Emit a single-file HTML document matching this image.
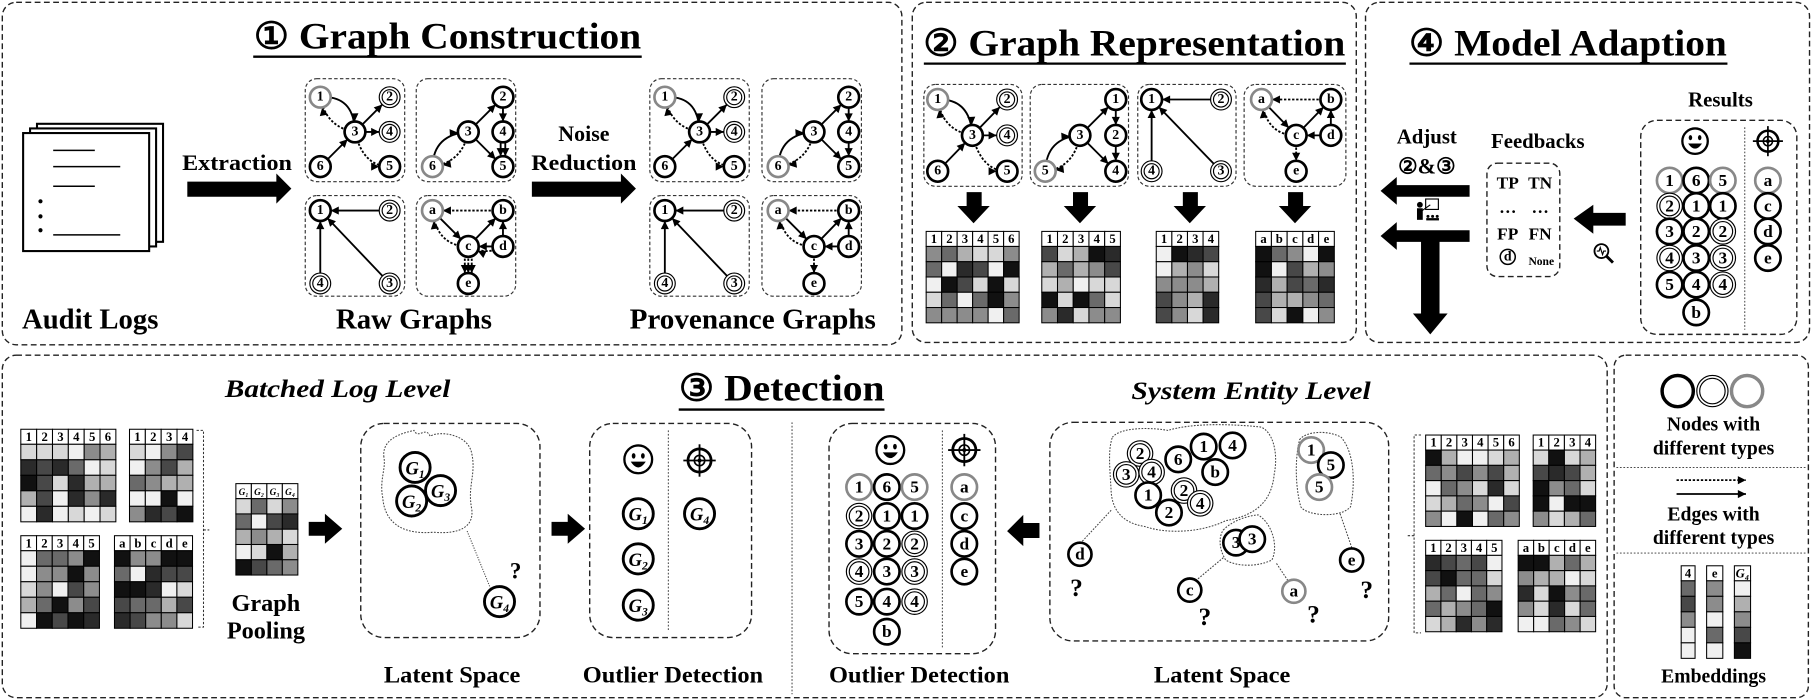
<!DOCTYPE html>
<html><head><meta charset="utf-8"><style>
html,body{margin:0;padding:0;background:#fff;}
svg{display:block;}
.bx{fill:none;stroke:#222;stroke-width:1.2;stroke-dasharray:5 3}
.sb{fill:none;stroke:#333;stroke-width:1;stroke-dasharray:3 2}
.e{stroke:#000;stroke-width:1.6;fill:none;marker-end:url(#ah)}
.dt{stroke-dasharray:2 1.5}
.nk{fill:#fff;stroke:#000;stroke-width:2.3}
.nd{fill:#fff;stroke:#000;stroke-width:1}
.ng{fill:#fff;stroke:#888;stroke-width:2.3}
.t{font-family:"Liberation Serif",serif;font-weight:bold;text-anchor:middle;fill:#000}
.nt{font-family:"Liberation Serif",serif;font-weight:bold;font-size:12px;text-anchor:middle;dominant-baseline:central}
.big{font-size:15px}
.ht{font-family:"Liberation Serif",serif;font-weight:bold;font-size:11px;text-anchor:middle}
.cl{fill:none;stroke:#444;stroke-width:0.9;stroke-dasharray:1.5 1.2}
</style></head><body>
<svg width="1813" height="700" viewBox="0 0 1568 605" preserveAspectRatio="none" xmlns="http://www.w3.org/2000/svg">
<defs>
<marker id="ah" markerUnits="userSpaceOnUse" markerWidth="30" markerHeight="30" refX="16" refY="0" viewBox="-2 -6 30 12" orient="auto" overflow="visible"><path d="M0,-3.5 L7,0 L0,3.5 z" fill="#000"/></marker>
<marker id="ah2" markerUnits="userSpaceOnUse" refX="7" refY="0" orient="auto" overflow="visible"><path d="M0,-3.5 L7,0 L0,3.5 z" fill="#000"/></marker>
</defs>
<g id="mx"></g>

<!-- Panels -->
<rect class="bx" x="2" y="2" width="778" height="296" rx="12"/>
<rect class="bx" x="789" y="2" width="384" height="294" rx="12"/>
<rect class="bx" x="1181" y="2" width="384" height="294" rx="12"/>
<rect class="bx" x="2" y="307" width="1388" height="296" rx="12"/>
<rect class="bx" x="1396" y="307" width="168" height="296" rx="10"/>

<!-- Titles -->
<text class="t" x="387" y="42" font-size="32" textLength="335" lengthAdjust="spacingAndGlyphs">① Graph Construction</text>
<line x1="219" y1="49" x2="555" y2="49" stroke="#000" stroke-width="2"/>
<text class="t" x="981" y="48" font-size="32" textLength="365" lengthAdjust="spacingAndGlyphs">② Graph Representation</text>
<line x1="799" y1="55" x2="1164" y2="55" stroke="#000" stroke-width="2"/>
<text class="t" x="1356" y="48" font-size="32" textLength="275" lengthAdjust="spacingAndGlyphs">④ Model Adaption</text>
<line x1="1219" y1="55" x2="1494" y2="55" stroke="#000" stroke-width="2"/>
<text class="t" x="676" y="346" font-size="32" textLength="178" lengthAdjust="spacingAndGlyphs">③ Detection</text>
<line x1="587" y1="354" x2="765" y2="354" stroke="#000" stroke-width="2"/>

<!-- Audit logs -->
<g fill="#fff" stroke="#000" stroke-width="1.8">
<rect x="32" y="107" width="109" height="102"/>
<rect x="26" y="111" width="109" height="102"/>
<rect x="20" y="115" width="109" height="102"/>
</g>
<g stroke="#000" stroke-width="1.3">
<line x1="46" y1="130" x2="82" y2="130"/><line x1="46" y1="144" x2="104" y2="144"/>
<line x1="46" y1="161" x2="82" y2="161"/><line x1="46" y1="203" x2="104" y2="203"/>
</g>
<circle cx="35" cy="174" r="1.8"/><circle cx="35" cy="187" r="1.8"/><circle cx="35" cy="199" r="1.8"/>
<text class="t" x="78" y="284" font-size="25" textLength="118" lengthAdjust="spacingAndGlyphs">Audit Logs</text>
<text class="t" x="205" y="147" font-size="19" textLength="95" lengthAdjust="spacingAndGlyphs">Extraction</text>
<polygon points="162,157 239,157 239,150 252,163 239,176 239,170 162,170" fill="#000"/>
<text class="t" x="505" y="122" font-size="19">Noise</text>
<text class="t" x="505" y="147" font-size="19" textLength="91" lengthAdjust="spacingAndGlyphs">Reduction</text>
<polygon points="460,157 537,157 537,150 550,163 537,176 537,170 460,170" fill="#000"/>
<text class="t" x="358" y="284" font-size="25" textLength="135" lengthAdjust="spacingAndGlyphs">Raw Graphs</text>
<text class="t" x="651" y="284" font-size="25" textLength="213" lengthAdjust="spacingAndGlyphs">Provenance Graphs</text>

<!-- Raw graph 1 -->
<g transform="translate(264,68)">
<rect class="sb" x="0" y="0" width="86" height="89" rx="10"/>
<path class="e" d="M13,16 Q42,14 43,46"/><path class="e dt" d="M43,46 Q18,42 13,16"/>
<line class="e" x1="43" y1="46" x2="73" y2="16"/><line class="e" x1="43" y1="46" x2="73" y2="46" stroke-width="2.6"/>
<line class="e" x1="13" y1="76" x2="43" y2="46"/><path class="e dt" d="M43,46 Q50,76 73,76"/>
<circle class="ng" cx="13" cy="16" r="9"/><text class="nt" x="13" y="16">1</text>
<circle class="nd" cx="73" cy="16" r="9"/><circle class="nd" cx="73" cy="16" r="6.5"/><text class="nt" x="73" y="16">2</text>
<circle class="nk" cx="43" cy="46" r="9"/><text class="nt" x="43" y="46">3</text>
<circle class="nd" cx="73" cy="46" r="9"/><circle class="nd" cx="73" cy="46" r="6.5"/><text class="nt" x="73" y="46">4</text>
<circle class="nk" cx="13" cy="76" r="9"/><text class="nt" x="13" y="76">6</text>
<circle class="nk" cx="73" cy="76" r="9"/><text class="nt" x="73" y="76">5</text>
</g>
<!-- Raw graph 2 -->
<g transform="translate(360,68)">
<rect class="sb" x="0" y="0" width="86" height="89" rx="10"/>
<line class="e" x1="45" y1="46" x2="75" y2="16"/><line class="e" x1="75" y1="16" x2="75" y2="46"/>
<line class="e" x1="73" y1="46" x2="73" y2="76"/><line class="e" x1="77" y1="46" x2="77" y2="76"/><line class="e" x1="45" y1="46" x2="75" y2="76"/>
<path class="e" d="M14,76 Q15,48 45,46"/><path class="e dt" d="M45,46 Q40,72 14,76"/>
<circle class="nk" cx="75" cy="16" r="9"/><text class="nt" x="75" y="16">2</text>
<circle class="nk" cx="45" cy="46" r="9"/><text class="nt" x="45" y="46">3</text>
<circle class="nk" cx="75" cy="46" r="9"/><text class="nt" x="75" y="46">4</text>
<circle class="ng" cx="14" cy="76" r="9"/><text class="nt" x="14" y="76">6</text>
<circle class="nk" cx="75" cy="76" r="9"/><text class="nt" x="75" y="76">5</text>
</g>
<!-- Raw graph 3 -->
<g transform="translate(264,169)">
<rect class="sb" x="0" y="0" width="86" height="87" rx="10"/>
<line class="e" x1="73" y1="13" x2="13" y2="13" stroke-width="2.4"/><line class="e" x1="13" y1="76" x2="13" y2="13"/><line class="e" x1="73" y1="76" x2="13" y2="13"/>
<circle class="nk" cx="13" cy="13" r="9"/><text class="nt" x="13" y="13">1</text>
<circle class="nd" cx="73" cy="13" r="9"/><circle class="nd" cx="73" cy="13" r="6.5"/><text class="nt" x="73" y="13">2</text>
<circle class="nd" cx="13" cy="76" r="9"/><circle class="nd" cx="13" cy="76" r="6.5"/><text class="nt" x="13" y="76">4</text>
<circle class="nd" cx="73" cy="76" r="9"/><circle class="nd" cx="73" cy="76" r="6.5"/><text class="nt" x="73" y="76">3</text>
</g>
<!-- Raw graph 4 -->
<g transform="translate(360,169)">
<rect class="sb" x="0" y="0" width="86" height="87" rx="10"/>
<line class="e dt" x1="75" y1="13" x2="14" y2="13"/><line class="e" x1="14" y1="13" x2="45" y2="44"/>
<path class="e dt" d="M45,44 Q18,44 14,13"/><line class="e" x1="45" y1="44" x2="75" y2="13"/>
<line class="e" x1="75" y1="44" x2="75" y2="13"/><line class="e" x1="75" y1="44" x2="45" y2="44" stroke-width="2.4"/>
<path class="e dt" d="M75,44 Q62,52 45,44"/>
<line class="e dt" x1="42" y1="44" x2="42" y2="76"/><line class="e dt" x1="45" y1="44" x2="45" y2="76"/><line class="e dt" x1="48" y1="44" x2="48" y2="76"/>
<circle class="ng" cx="14" cy="13" r="9"/><text class="nt" x="14" y="13">a</text>
<circle class="nk" cx="75" cy="13" r="9"/><text class="nt" x="75" y="13">b</text>
<circle class="nk" cx="45" cy="44" r="9"/><text class="nt" x="45" y="44">c</text>
<circle class="nk" cx="75" cy="44" r="9"/><text class="nt" x="75" y="44">d</text>
<circle class="nk" cx="45" cy="76" r="9"/><text class="nt" x="45" y="76">e</text>
</g>
<!-- Prov graph 1 -->
<g transform="translate(562,68)">
<rect class="sb" x="0" y="0" width="86" height="89" rx="10"/>
<path class="e" d="M13,16 Q42,14 43,46"/><path class="e dt" d="M43,46 Q18,42 13,16"/>
<line class="e" x1="43" y1="46" x2="73" y2="16"/><line class="e" x1="43" y1="46" x2="73" y2="46" stroke-width="2.6"/>
<line class="e" x1="13" y1="76" x2="43" y2="46"/><path class="e dt" d="M43,46 Q50,76 73,76"/>
<circle class="ng" cx="13" cy="16" r="9"/><text class="nt" x="13" y="16">1</text>
<circle class="nd" cx="73" cy="16" r="9"/><circle class="nd" cx="73" cy="16" r="6.5"/><text class="nt" x="73" y="16">2</text>
<circle class="nk" cx="43" cy="46" r="9"/><text class="nt" x="43" y="46">3</text>
<circle class="nd" cx="73" cy="46" r="9"/><circle class="nd" cx="73" cy="46" r="6.5"/><text class="nt" x="73" y="46">4</text>
<circle class="nk" cx="13" cy="76" r="9"/><text class="nt" x="13" y="76">6</text>
<circle class="nk" cx="73" cy="76" r="9"/><text class="nt" x="73" y="76">5</text>
</g>
<!-- Prov graph 2 -->
<g transform="translate(659,68)">
<rect class="sb" x="0" y="0" width="86" height="89" rx="10"/>
<line class="e" x1="45" y1="46" x2="75" y2="16"/><line class="e" x1="75" y1="16" x2="75" y2="46"/>
<line class="e" x1="75" y1="46" x2="75" y2="76"/><line class="e" x1="45" y1="46" x2="75" y2="76"/>
<path class="e" d="M14,76 Q15,48 45,46"/><path class="e dt" d="M45,46 Q40,72 14,76"/>
<circle class="nk" cx="75" cy="16" r="9"/><text class="nt" x="75" y="16">2</text>
<circle class="nk" cx="45" cy="46" r="9"/><text class="nt" x="45" y="46">3</text>
<circle class="nk" cx="75" cy="46" r="9"/><text class="nt" x="75" y="46">4</text>
<circle class="ng" cx="14" cy="76" r="9"/><text class="nt" x="14" y="76">6</text>
<circle class="nk" cx="75" cy="76" r="9"/><text class="nt" x="75" y="76">5</text>
</g>
<!-- Prov graph 3 -->
<g transform="translate(562,169)">
<rect class="sb" x="0" y="0" width="86" height="87" rx="10"/>
<line class="e" x1="73" y1="13" x2="13" y2="13" stroke-width="2.4"/><line class="e" x1="13" y1="76" x2="13" y2="13"/><line class="e" x1="73" y1="76" x2="13" y2="13"/>
<circle class="nk" cx="13" cy="13" r="9"/><text class="nt" x="13" y="13">1</text>
<circle class="nd" cx="73" cy="13" r="9"/><circle class="nd" cx="73" cy="13" r="6.5"/><text class="nt" x="73" y="13">2</text>
<circle class="nd" cx="13" cy="76" r="9"/><circle class="nd" cx="13" cy="76" r="6.5"/><text class="nt" x="13" y="76">4</text>
<circle class="nd" cx="73" cy="76" r="9"/><circle class="nd" cx="73" cy="76" r="6.5"/><text class="nt" x="73" y="76">3</text>
</g>
<!-- Prov graph 4 -->
<g transform="translate(659,169)">
<rect class="sb" x="0" y="0" width="86" height="87" rx="10"/>
<line class="e dt" x1="75" y1="13" x2="14" y2="13"/><line class="e" x1="14" y1="13" x2="45" y2="44"/>
<path class="e dt" d="M45,44 Q18,44 14,13"/><line class="e" x1="45" y1="44" x2="75" y2="13"/>
<line class="e" x1="75" y1="44" x2="75" y2="13"/><line class="e" x1="75" y1="44" x2="45" y2="44" stroke-width="2.4"/>
<line class="e dt" x1="45" y1="44" x2="45" y2="76"/>
<circle class="ng" cx="14" cy="13" r="9"/><text class="nt" x="14" y="13">a</text>
<circle class="nk" cx="75" cy="13" r="9"/><text class="nt" x="75" y="13">b</text>
<circle class="nk" cx="45" cy="44" r="9"/><text class="nt" x="45" y="44">c</text>
<circle class="nk" cx="75" cy="44" r="9"/><text class="nt" x="75" y="44">d</text>
<circle class="nk" cx="45" cy="76" r="9"/><text class="nt" x="45" y="76">e</text>
</g>

<!-- Panel 2 graphs -->
<g transform="translate(799,73)">
<rect class="sb" x="0" y="0" width="85" height="88" rx="10"/>
<path class="e" d="M12,13 Q40,12 42,44"/><path class="e dt" d="M42,44 Q16,40 12,13"/>
<line class="e" x1="42" y1="44" x2="72" y2="13"/><line class="e" x1="42" y1="44" x2="72" y2="44" stroke-width="2.6"/>
<line class="e" x1="12" y1="75" x2="42" y2="44"/><path class="e dt" d="M42,44 Q50,75 72,75"/>
<circle class="ng" cx="12" cy="13" r="9"/><text class="nt" x="12" y="13">1</text>
<circle class="nd" cx="72" cy="13" r="9"/><circle class="nd" cx="72" cy="13" r="6.5"/><text class="nt" x="72" y="13">2</text>
<circle class="nk" cx="42" cy="44" r="9"/><text class="nt" x="42" y="44">3</text>
<circle class="nd" cx="72" cy="44" r="9"/><circle class="nd" cx="72" cy="44" r="6.5"/><text class="nt" x="72" y="44">4</text>
<circle class="nk" cx="12" cy="75" r="9"/><text class="nt" x="12" y="75">6</text>
<circle class="nk" cx="72" cy="75" r="9"/><text class="nt" x="72" y="75">5</text>
</g>
<g transform="translate(891,73)">
<rect class="sb" x="0" y="0" width="85" height="88" rx="10"/>
<line class="e" x1="43" y1="44" x2="74" y2="13"/><line class="e" x1="74" y1="13" x2="74" y2="44"/>
<line class="e" x1="74" y1="44" x2="74" y2="75"/><line class="e" x1="43" y1="44" x2="74" y2="75"/>
<path class="e" d="M13,75 Q14,46 43,44"/><path class="e dt" d="M43,44 Q38,72 13,75"/>
<circle class="nk" cx="74" cy="13" r="9"/><text class="nt" x="74" y="13">1</text>
<circle class="nk" cx="43" cy="44" r="9"/><text class="nt" x="43" y="44">3</text>
<circle class="nk" cx="74" cy="44" r="9"/><text class="nt" x="74" y="44">2</text>
<circle class="ng" cx="13" cy="75" r="9"/><text class="nt" x="13" y="75">5</text>
<circle class="nk" cx="74" cy="75" r="9"/><text class="nt" x="74" y="75">4</text>
</g>
<g transform="translate(984,73)">
<rect class="sb" x="0" y="0" width="85" height="88" rx="10"/>
<line class="e" x1="72" y1="13" x2="12" y2="13" stroke-width="2.4"/><line class="e" x1="12" y1="75" x2="12" y2="13"/><line class="e" x1="72" y1="75" x2="12" y2="13"/>
<circle class="nk" cx="12" cy="13" r="9"/><text class="nt" x="12" y="13">1</text>
<circle class="nd" cx="72" cy="13" r="9"/><circle class="nd" cx="72" cy="13" r="6.5"/><text class="nt" x="72" y="13">2</text>
<circle class="nd" cx="12" cy="75" r="9"/><circle class="nd" cx="12" cy="75" r="6.5"/><text class="nt" x="12" y="75">4</text>
<circle class="nd" cx="72" cy="75" r="9"/><circle class="nd" cx="72" cy="75" r="6.5"/><text class="nt" x="72" y="75">3</text>
</g>
<g transform="translate(1076,73)">
<rect class="sb" x="0" y="0" width="88" height="88" rx="10"/>
<line class="e dt" x1="75" y1="13" x2="15" y2="13"/><line class="e" x1="15" y1="13" x2="45" y2="44"/>
<path class="e dt" d="M45,44 Q19,44 15,13"/><line class="e" x1="45" y1="44" x2="75" y2="13"/>
<line class="e" x1="75" y1="44" x2="75" y2="13"/><line class="e" x1="75" y1="44" x2="45" y2="44" stroke-width="2.4"/>
<line class="e dt" x1="45" y1="44" x2="45" y2="75"/>
<circle class="ng" cx="15" cy="13" r="9"/><text class="nt" x="15" y="13">a</text>
<circle class="nk" cx="75" cy="13" r="9"/><text class="nt" x="75" y="13">b</text>
<circle class="nk" cx="45" cy="44" r="9"/><text class="nt" x="45" y="44">c</text>
<circle class="nk" cx="75" cy="44" r="9"/><text class="nt" x="75" y="44">d</text>
<circle class="nk" cx="45" cy="75" r="9"/><text class="nt" x="45" y="75">e</text>
</g>
<!-- down arrows -->
<g fill="#000">
<polygon points="836,166 849,166 849,178 856,178 842,193 828,178 836,178"/>
<polygon points="928,166 941,166 941,178 948,178 934,193 920,178 928,178"/>
<polygon points="1023,166 1036,166 1036,178 1043,178 1029,193 1015,178 1023,178"/>
<polygon points="1114,166 1127,166 1127,178 1134,178 1120,193 1106,178 1114,178"/>
</g>

<!-- matrix headers -->
<g class="ht">
<text x="807.7" y="210">1</text><text x="821.1" y="210">2</text><text x="834.5" y="210">3</text><text x="847.9" y="210">4</text><text x="861.3" y="210">5</text><text x="874.7" y="210">6</text>
<text x="907.8" y="210">1</text><text x="921.4" y="210">2</text><text x="935" y="210">3</text><text x="948.6" y="210">4</text><text x="962.2" y="210">5</text>
<text x="1006.8" y="210">1</text><text x="1020.3" y="210">2</text><text x="1033.8" y="210">3</text><text x="1047.3" y="210">4</text>
<text x="1092.8" y="210">a</text><text x="1106.4" y="210">b</text><text x="1120" y="210">c</text><text x="1133.6" y="210">d</text><text x="1147.2" y="210">e</text>
<text x="24.9" y="381">1</text><text x="38.6" y="381">2</text><text x="52.3" y="381">3</text><text x="66" y="381">4</text><text x="79.7" y="381">5</text><text x="93.4" y="381">6</text>
<text x="118.9" y="381">1</text><text x="132.6" y="381">2</text><text x="146.3" y="381">3</text><text x="160" y="381">4</text>
<text x="24.8" y="473">1</text><text x="38.4" y="473">2</text><text x="52" y="473">3</text><text x="65.6" y="473">4</text><text x="79.2" y="473">5</text>
<text x="105.8" y="473">a</text><text x="119.3" y="473">b</text><text x="132.8" y="473">c</text><text x="146.3" y="473">d</text><text x="159.8" y="473">e</text>
<text x="1239.8" y="386">1</text><text x="1253.3" y="386">2</text><text x="1266.8" y="386">3</text><text x="1280.3" y="386">4</text><text x="1293.8" y="386">5</text><text x="1307.3" y="386">6</text>
<text x="1332.8" y="386">1</text><text x="1346.3" y="386">2</text><text x="1359.8" y="386">3</text><text x="1373.3" y="386">4</text>
<text x="1239.6" y="477">1</text><text x="1252.8" y="477">2</text><text x="1266" y="477">3</text><text x="1279.2" y="477">4</text><text x="1292.4" y="477">5</text>
<text x="1319.7" y="477">a</text><text x="1333.1" y="477">b</text><text x="1346.5" y="477">c</text><text x="1359.9" y="477">d</text><text x="1373.3" y="477">e</text>
</g>
<g class="ht" font-style="italic" font-size="8">
<text x="210.7" y="428" font-size="8">G₁</text><text x="224.1" y="428" font-size="8">G₂</text><text x="237.5" y="428" font-size="8">G₃</text><text x="250.9" y="428" font-size="8">G₄</text>
</g>

<!-- Panel 4 -->
<text class="t" x="1488" y="92" font-size="18">Results</text>
<rect class="bx" x="1419" y="104" width="135" height="185" rx="14"/>
<line x1="1509" y1="110" x2="1509" y2="285" stroke="#333" stroke-width="0.8" stroke-dasharray="1.5 1.5"/>
<g transform="translate(1466,122)"><circle r="11" fill="#fff" stroke="#000" stroke-width="2"/><ellipse cx="-4" cy="-3" rx="1.5" ry="2.2"/><ellipse cx="4" cy="-3" rx="1.5" ry="2.2"/><path d="M-6,2 Q0,11 6,2 z"/></g>
<g transform="translate(1529,122)" fill="none" stroke="#000"><circle r="9" stroke-width="2.2"/><circle r="4" stroke-width="1.3"/><circle r="1.2" stroke-width="1"/><line x1="-13" y1="0" x2="13" y2="0" stroke-width="1.5"/><line x1="0" y1="-13" x2="0" y2="13" stroke-width="1.5"/></g>
<g>
<circle class="ng" cx="1444" cy="156" r="11"/><text class="nt big" x="1444" y="156">1</text>
<circle class="nd" cx="1444" cy="178" r="11"/><circle class="nd" cx="1444" cy="178" r="8.5"/><text class="nt big" x="1444" y="178">2</text>
<circle class="nk" cx="1444" cy="200" r="11" stroke-width="3"/><text class="nt big" x="1444" y="200">3</text>
<circle class="nd" cx="1444" cy="223" r="11"/><circle class="nd" cx="1444" cy="223" r="8.5"/><text class="nt big" x="1444" y="223">4</text>
<circle class="nk" cx="1444" cy="246" r="11" stroke-width="3"/><text class="nt big" x="1444" y="246">5</text>
<circle class="nk" cx="1467" cy="156" r="11" stroke-width="3"/><text class="nt big" x="1467" y="156">6</text>
<circle class="nk" cx="1467" cy="178" r="11" stroke-width="3"/><text class="nt big" x="1467" y="178">1</text>
<circle class="nk" cx="1467" cy="200" r="11" stroke-width="3"/><text class="nt big" x="1467" y="200">2</text>
<circle class="nk" cx="1467" cy="223" r="11" stroke-width="3"/><text class="nt big" x="1467" y="223">3</text>
<circle class="nk" cx="1467" cy="246" r="11" stroke-width="3"/><text class="nt big" x="1467" y="246">4</text>
<circle class="nk" cx="1467" cy="270" r="11" stroke-width="3"/><text class="nt big" x="1467" y="270">b</text>
<circle class="ng" cx="1490" cy="156" r="11"/><text class="nt big" x="1490" y="156">5</text>
<circle class="nk" cx="1490" cy="178" r="11" stroke-width="3"/><text class="nt big" x="1490" y="178">1</text>
<circle class="nd" cx="1490" cy="200" r="11"/><circle class="nd" cx="1490" cy="200" r="8.5"/><text class="nt big" x="1490" y="200">2</text>
<circle class="nd" cx="1490" cy="223" r="11"/><circle class="nd" cx="1490" cy="223" r="8.5"/><text class="nt big" x="1490" y="223">3</text>
<circle class="nd" cx="1490" cy="246" r="11"/><circle class="nd" cx="1490" cy="246" r="8.5"/><text class="nt big" x="1490" y="246">4</text>
<circle class="ng" cx="1529" cy="156" r="11"/><text class="nt big" x="1529" y="156">a</text>
<circle class="nk" cx="1529" cy="178" r="11" stroke-width="3"/><text class="nt big" x="1529" y="178">c</text>
<circle class="nk" cx="1529" cy="200" r="11" stroke-width="3"/><text class="nt big" x="1529" y="200">d</text>
<circle class="nk" cx="1529" cy="223" r="11" stroke-width="3"/><text class="nt big" x="1529" y="223">e</text>
</g>
<text class="t" x="1330" y="128" font-size="18">Feedbacks</text>
<rect class="bx" x="1286" y="141" width="63" height="98" rx="9"/>
<text class="t" x="1304" y="163" font-size="15">TP</text><text class="t" x="1332" y="163" font-size="15">TN</text>
<text class="t" x="1304" y="184" font-size="15">…</text><text class="t" x="1332" y="184" font-size="15">…</text>
<text class="t" x="1304" y="207" font-size="15">FP</text><text class="t" x="1332" y="207" font-size="15">FN</text>
<circle cx="1304" cy="222" r="6.5" fill="none" stroke="#000" stroke-width="1.3"/><text class="nt" x="1304" y="222" font-size="10">d</text>
<text class="t" x="1333" y="229" font-size="10">None</text>
<polygon points="1406,184 1378,184 1378,177 1361,189 1378,202 1378,195 1406,195" fill="#000"/>
<g transform="translate(1385,217)" fill="none" stroke="#000"><circle r="6" stroke-width="1.6"/><line x1="4" y1="4" x2="10" y2="10" stroke-width="2.5"/><path d="M-4,0 L-2,0 L-1,-3 L1,3 L2,0 L4,0" stroke-width="1"/></g>
<text class="t" x="1234" y="124" font-size="18">Adjust</text>
<text class="t" x="1234" y="150" font-size="19">②&amp;③</text>
<polygon points="1271,160 1208,160 1208,153 1194,165 1208,177 1208,170 1271,170" fill="#000"/>
<polygon points="1271,199 1208,199 1208,192 1194,204 1208,216 1208,209 1271,209" fill="#000"/>
<rect x="1229" y="204" width="16" height="68"/>
<polygon points="1222,271 1252,271 1237,289"/>
<g transform="translate(1225,174)"><circle cx="3" cy="3" r="2.5"/><rect x="0.5" y="6" width="5" height="10"/><rect x="8" y="-2" width="11" height="9" fill="none" stroke="#000" stroke-width="1"/><line x1="5" y1="8" x2="12" y2="3" stroke="#000"/><circle cx="10" cy="13" r="1.3"/><circle cx="14" cy="13" r="1.3"/><circle cx="18" cy="13" r="1.3"/><rect x="8.5" y="14.5" width="11" height="2"/></g>

<!-- Panel 3 left -->
<text class="t" x="292" y="343" font-size="22" font-style="italic" textLength="195" lengthAdjust="spacingAndGlyphs">Batched Log Level</text>
<path d="M170,372 L176,372 L176,542 L170,542 M176,458 L181,458" fill="none" stroke="#333" stroke-width="0.9" stroke-dasharray="2 1.5"/>
<text class="t" x="230" y="528" font-size="21">Graph</text>
<text class="t" x="230" y="552" font-size="21">Pooling</text>
<polygon points="267,451 281,451 281,444 296,457 281,470 281,463 267,463" fill="#000"/>
<rect class="bx" x="312" y="366" width="155" height="185" rx="20"/>
<path class="cl" d="M332,395 C330,378 350,374 358,372 C362,380 368,368 372,377 C380,372 405,375 408,392 C412,410 404,420 408,440 C410,455 398,462 375,460 C352,462 333,455 331,430 C328,415 334,405 332,395 Z"/>
<line class="cl" x1="404" y1="459" x2="424" y2="508" style="stroke-dasharray:1 1.2"/>
<g font-family="Liberation Serif,serif" font-style="italic" font-weight="bold" font-size="16" text-anchor="middle">
<ellipse cx="359" cy="404" rx="13" ry="13" fill="#fff" stroke="#000" stroke-width="2.5"/><text x="359" y="410">G<tspan font-size="10" dy="3">1</tspan></text>
<ellipse cx="356" cy="433" rx="13" ry="13" fill="#fff" stroke="#000" stroke-width="2.5"/><text x="356" y="439">G<tspan font-size="10" dy="3">2</tspan></text>
<ellipse cx="381" cy="424" rx="13" ry="13" fill="#fff" stroke="#000" stroke-width="2.5"/><text x="381" y="430">G<tspan font-size="10" dy="3">3</tspan></text>
<ellipse cx="432" cy="520" rx="13" ry="13" fill="#fff" stroke="#000" stroke-width="2.5"/><text x="432" y="526">G<tspan font-size="10" dy="3">4</tspan></text>
</g>
<text class="t" x="446" y="500" font-size="20" font-weight="normal">?</text>
<text class="t" x="391" y="590" font-size="20" textLength="118" lengthAdjust="spacingAndGlyphs">Latent Space</text>
<polygon points="477,451 491,451 491,444 506,457 491,470 491,463 477,463" fill="#000"/>
<rect class="bx" x="510" y="366" width="140" height="185" rx="20"/>
<line x1="578" y1="372" x2="578" y2="545" stroke="#333" stroke-width="0.8" stroke-dasharray="1.5 1.5"/>
<g transform="translate(552,397)"><circle r="12" fill="#fff" stroke="#000" stroke-width="2"/><ellipse cx="-4" cy="-3" rx="1.6" ry="2.4"/><ellipse cx="4" cy="-3" rx="1.6" ry="2.4"/><path d="M-6.5,2 Q0,12 6.5,2 z"/></g>
<g transform="translate(605,398)" fill="none" stroke="#000"><circle r="10" stroke-width="2.4"/><circle r="4.5" stroke-width="1.4"/><circle r="1.3" stroke-width="1"/><line x1="-14" y1="0" x2="14" y2="0" stroke-width="1.6"/><line x1="0" y1="-14" x2="0" y2="14" stroke-width="1.6"/></g>
<g font-family="Liberation Serif,serif" font-style="italic" font-weight="bold" font-size="16" text-anchor="middle">
<ellipse cx="552" cy="444" rx="13" ry="13" fill="#fff" stroke="#000" stroke-width="2.5"/><text x="552" y="450">G<tspan font-size="10" dy="3">1</tspan></text>
<ellipse cx="552" cy="483" rx="13" ry="13" fill="#fff" stroke="#000" stroke-width="2.5"/><text x="552" y="489">G<tspan font-size="10" dy="3">2</tspan></text>
<ellipse cx="552" cy="523" rx="13" ry="13" fill="#fff" stroke="#000" stroke-width="2.5"/><text x="552" y="529">G<tspan font-size="10" dy="3">3</tspan></text>
<ellipse cx="605" cy="444" rx="13" ry="13" fill="#fff" stroke="#000" stroke-width="2.5"/><text x="605" y="450">G<tspan font-size="10" dy="3">4</tspan></text>
</g>
<text class="t" x="582" y="590" font-size="20" textLength="156" lengthAdjust="spacingAndGlyphs">Outlier Detection</text>
<line x1="685" y1="365" x2="685" y2="600" stroke="#333" stroke-width="0.8" stroke-dasharray="1.5 1.5"/>

<!-- Panel 3 right -->
<rect class="bx" x="717" y="366" width="144" height="199" rx="20"/>
<line x1="815" y1="372" x2="815" y2="560" stroke="#333" stroke-width="0.8" stroke-dasharray="1.5 1.5"/>
<g transform="translate(770,389)"><circle r="12" fill="#fff" stroke="#000" stroke-width="2"/><ellipse cx="-4" cy="-3" rx="1.6" ry="2.4"/><ellipse cx="4" cy="-3" rx="1.6" ry="2.4"/><path d="M-6.5,2 Q0,12 6.5,2 z"/></g>
<g transform="translate(834,389)" fill="none" stroke="#000"><circle r="10" stroke-width="2.4"/><circle r="4.5" stroke-width="1.4"/><circle r="1.3" stroke-width="1"/><line x1="-14" y1="0" x2="14" y2="0" stroke-width="1.6"/><line x1="0" y1="-14" x2="0" y2="14" stroke-width="1.6"/></g>
<g>
<circle class="ng" cx="743" cy="421" r="11"/><text class="nt big" x="743" y="421">1</text>
<circle class="nd" cx="743" cy="446" r="11"/><circle class="nd" cx="743" cy="446" r="8.5"/><text class="nt big" x="743" y="446">2</text>
<circle class="nk" cx="743" cy="470" r="11" stroke-width="3"/><text class="nt big" x="743" y="470">3</text>
<circle class="nd" cx="743" cy="494" r="11"/><circle class="nd" cx="743" cy="494" r="8.5"/><text class="nt big" x="743" y="494">4</text>
<circle class="nk" cx="743" cy="520" r="11" stroke-width="3"/><text class="nt big" x="743" y="520">5</text>
<circle class="nk" cx="767" cy="421" r="11" stroke-width="3"/><text class="nt big" x="767" y="421">6</text>
<circle class="nk" cx="767" cy="446" r="11" stroke-width="3"/><text class="nt big" x="767" y="446">1</text>
<circle class="nk" cx="767" cy="470" r="11" stroke-width="3"/><text class="nt big" x="767" y="470">2</text>
<circle class="nk" cx="767" cy="494" r="11" stroke-width="3"/><text class="nt big" x="767" y="494">3</text>
<circle class="nk" cx="767" cy="520" r="11" stroke-width="3"/><text class="nt big" x="767" y="520">4</text>
<circle class="nk" cx="767" cy="546" r="11" stroke-width="3"/><text class="nt big" x="767" y="546">b</text>
<circle class="ng" cx="791" cy="421" r="11"/><text class="nt big" x="791" y="421">5</text>
<circle class="nk" cx="791" cy="446" r="11" stroke-width="3"/><text class="nt big" x="791" y="446">1</text>
<circle class="nd" cx="791" cy="470" r="11"/><circle class="nd" cx="791" cy="470" r="8.5"/><text class="nt big" x="791" y="470">2</text>
<circle class="nd" cx="791" cy="494" r="11"/><circle class="nd" cx="791" cy="494" r="8.5"/><text class="nt big" x="791" y="494">3</text>
<circle class="nd" cx="791" cy="520" r="11"/><circle class="nd" cx="791" cy="520" r="8.5"/><text class="nt big" x="791" y="520">4</text>
<circle class="ng" cx="834" cy="421" r="11"/><text class="nt big" x="834" y="421">a</text>
<circle class="nk" cx="834" cy="446" r="11" stroke-width="3"/><text class="nt big" x="834" y="446">c</text>
<circle class="nk" cx="834" cy="470" r="11" stroke-width="3"/><text class="nt big" x="834" y="470">d</text>
<circle class="nk" cx="834" cy="494" r="11" stroke-width="3"/><text class="nt big" x="834" y="494">e</text>
</g>
<text class="t" x="795" y="590" font-size="20" textLength="156" lengthAdjust="spacingAndGlyphs">Outlier Detection</text>
<polygon points="899,452 885,452 885,445 871,459 885,472 885,465 899,465" fill="#000"/>
<text class="t" x="1082" y="345" font-size="22" font-style="italic" textLength="207" lengthAdjust="spacingAndGlyphs">System Entity Level</text>
<rect class="bx" x="908" y="365" width="293" height="189" rx="20"/>
<path class="cl" d="M962,378 C970,368 1000,370 1010,372 C1030,366 1060,366 1090,369 C1100,372 1106,390 1102,410 C1100,430 1090,445 1060,450 C1040,460 1010,462 990,455 C970,452 962,440 961,425 C960,405 958,390 962,378 Z"/>
<path class="cl" d="M1124,380 C1130,372 1150,372 1160,378 C1172,392 1172,420 1168,438 C1160,448 1130,446 1125,438 C1120,420 1120,395 1124,380 Z"/>
<path class="cl" d="M1058,458 C1066,450 1078,446 1088,445 C1100,452 1106,472 1100,484 C1088,490 1070,490 1060,484 C1054,474 1054,464 1058,458 Z"/>
<line class="cl" x1="961" y1="441" x2="934" y2="470"/>
<line class="cl" x1="1058" y1="482" x2="1034" y2="502"/>
<line class="cl" x1="1104" y1="487" x2="1114" y2="502"/>
<line class="cl" x1="1159" y1="444" x2="1169" y2="473"/>
<g>
<circle class="nd" cx="986" cy="392" r="11"/><circle class="nd" cx="986" cy="392" r="8.5"/><text class="nt big" x="986" y="392">2</text>
<circle class="nd" cx="974" cy="410" r="11"/><circle class="nd" cx="974" cy="410" r="8.5"/><text class="nt big" x="974" y="410">3</text>
<circle class="nd" cx="996" cy="408" r="11"/><circle class="nd" cx="996" cy="408" r="8.5"/><text class="nt big" x="996" y="408">4</text>
<circle class="nk" cx="1019" cy="397" r="11" stroke-width="3"/><text class="nt big" x="1019" y="397">6</text>
<circle class="nk" cx="1041" cy="386" r="11" stroke-width="3"/><text class="nt big" x="1041" y="386">1</text>
<circle class="nk" cx="1066" cy="385" r="11" stroke-width="3"/><text class="nt big" x="1066" y="385">4</text>
<circle class="nk" cx="1051" cy="408" r="11" stroke-width="3"/><text class="nt big" x="1051" y="408">b</text>
<circle class="nk" cx="993" cy="428" r="11" stroke-width="3"/><text class="nt big" x="993" y="428">1</text>
<circle class="nd" cx="1024" cy="424" r="11"/><circle class="nd" cx="1024" cy="424" r="8.5"/><text class="nt big" x="1024" y="424">2</text>
<circle class="nd" cx="1038" cy="435" r="11"/><circle class="nd" cx="1038" cy="435" r="8.5"/><text class="nt big" x="1038" y="435">4</text>
<circle class="nk" cx="1011" cy="443" r="11" stroke-width="3"/><text class="nt big" x="1011" y="443">2</text>
<circle class="ng" cx="1134" cy="389" r="11"/><text class="nt big" x="1134" y="389">1</text>
<circle class="nk" cx="1151" cy="402" r="11" stroke-width="3"/><text class="nt big" x="1151" y="402">5</text>
<circle class="ng" cx="1141" cy="421" r="11"/><text class="nt big" x="1141" y="421">5</text>
<circle class="nk" cx="1069" cy="469" r="11" stroke-width="3"/><text class="nt big" x="1069" y="469">3</text>
<circle class="nk" cx="1083" cy="466" r="11" stroke-width="3"/><text class="nt big" x="1083" y="466">3</text>
<circle class="nk" cx="934" cy="479" r="10" stroke-width="3"/><text class="nt big" x="934" y="479">d</text>
<circle class="nk" cx="1029" cy="510" r="10" stroke-width="3"/><text class="nt big" x="1029" y="510">c</text>
<circle class="ng" cx="1119" cy="511" r="10"/><text class="nt big" x="1119" y="511">a</text>
<circle class="nk" cx="1169" cy="484" r="10" stroke-width="3"/><text class="nt big" x="1169" y="484">e</text>
</g>
<g class="t" font-size="22" font-weight="normal">
<text x="931" y="515">?</text><text x="1042" y="540">?</text><text x="1136" y="538">?</text><text x="1182" y="517">?</text>
</g>
<text class="t" x="1057" y="590" font-size="20" textLength="118" lengthAdjust="spacingAndGlyphs">Latent Space</text>
<path d="M1229,376 L1223,376 L1223,547 L1229,547 M1223,463 L1217,463" fill="none" stroke="#333" stroke-width="0.9" stroke-dasharray="2 1.5"/>

<!-- Legend -->
<circle cx="1451" cy="338" r="13.5" fill="none" stroke="#000" stroke-width="3"/>
<circle cx="1481" cy="338" r="13.5" fill="none" stroke="#000" stroke-width="1"/><circle cx="1481" cy="338" r="11" fill="none" stroke="#000" stroke-width="1"/>
<circle cx="1511" cy="338" r="13.5" fill="none" stroke="#888" stroke-width="3"/>
<text class="t" x="1482" y="372" font-size="17">Nodes with</text>
<text class="t" x="1482" y="393" font-size="17">different types</text>
<line x1="1398" y1="404" x2="1563" y2="404" stroke="#333" stroke-width="0.8" stroke-dasharray="1.5 1.5"/>
<line x1="1450" y1="415" x2="1510" y2="415" stroke="#000" stroke-width="1.5" stroke-dasharray="2 1.5" marker-end="url(#ah2)"/>
<line x1="1450" y1="427" x2="1510" y2="427" stroke="#000" stroke-width="1.5" marker-end="url(#ah2)"/>
<text class="t" x="1482" y="450" font-size="17">Edges with</text>
<text class="t" x="1482" y="470" font-size="17">different types</text>
<line x1="1398" y1="478" x2="1563" y2="478" stroke="#333" stroke-width="0.8" stroke-dasharray="1.5 1.5"/>
<text class="ht" x="1460" y="499" font-size="10">4</text>
<text class="ht" x="1483" y="499" font-size="10">e</text>
<text class="ht" x="1507" y="499" font-size="7" font-style="italic">G₄</text>
<text class="t" x="1482" y="590" font-size="17">Embeddings</text>
</svg>
<script>
(function(){
var g=document.getElementById('mx');var NS='http://www.w3.org/2000/svg';
var s=7;function rnd(){s=(s*9301+49297)%233280;return s/233280;}
var pal=['#f0f0f0','#d8d8d8','#b0b0b0','#8c8c8c','#6a6a6a','#484848','#2a2a2a','#111'];
function R(x,y,w,h,f){var r=document.createElementNS(NS,'rect');r.setAttribute('x',x);r.setAttribute('y',y);r.setAttribute('width',w);r.setAttribute('height',h);r.setAttribute('fill',f);r.setAttribute('stroke','#000');r.setAttribute('stroke-width','0.9');g.appendChild(r);}
function M(x,y,c,cw,hh,rows,rh){for(var i=0;i<c;i++){R(x+i*cw,y,cw,hh,'#fff');for(var j=0;j<rows;j++){R(x+i*cw,y+hh+j*rh,cw,rh,pal[Math.floor(rnd()*8)]);}}}
M(801,200,6,13.4,13,5,13.2);M(901,200,5,13.6,13,5,13.2);M(1000,200,4,13.5,13,5,13.2);M(1086,200,5,13.6,13,5,13.2);
M(18,371,6,13.7,13,5,13.4);M(112,371,4,13.7,13,5,13.4);M(18,463,5,13.6,13,5,13.4);M(99,463,5,13.5,13,5,13.4);
M(204,418,4,13.4,13,5,13.2);
M(1233,376,6,13.5,13,5,13.2);M(1326,376,4,13.5,13,5,13.2);M(1233,467,5,13.2,13,5,13.2);M(1313,467,5,13.4,13,5,13.2);
M(1454,489,12,0,0,0,0);
[[1454,12],[1476,14],[1500,14]].forEach(function(b){R(b[0],489,b[1],13,'#fff');for(var j=0;j<5;j++)R(b[0],502+j*13.4,b[1],13.4,pal[Math.floor(rnd()*8)]);});
})();
</script>
</body></html>
